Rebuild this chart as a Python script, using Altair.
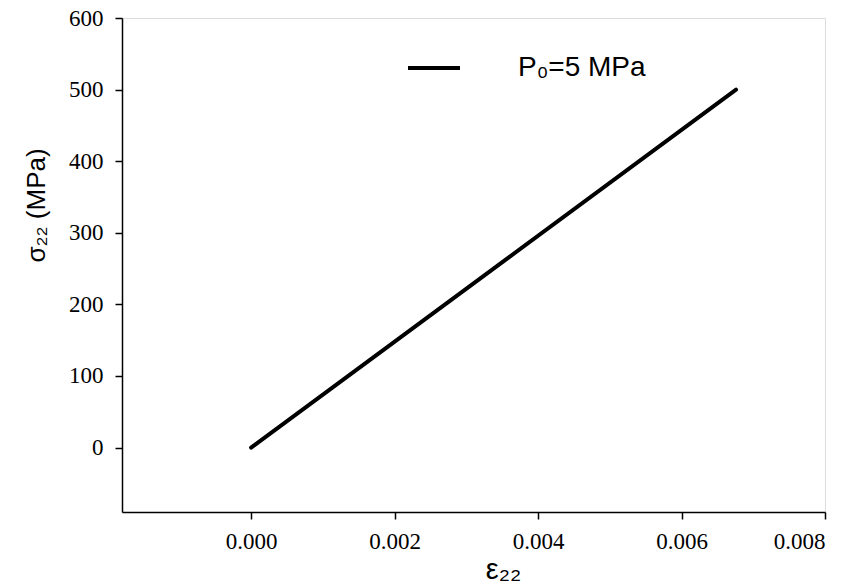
import altair as alt
import pandas as pd

# data
strain = [0.0, 0.00676]
stress = [0.0, 500.0]
series = ["P₀=5 MPa", "P₀=5 MPa"]

x_ticks = [0.0, 0.002, 0.004, 0.006, 0.008]
y_ticks = [0, 100, 200, 300, 400, 500, 600]

df = pd.DataFrame({"strain": strain, "stress": stress, "series": series})

serif = "'Liberation Serif', 'Times New Roman', Times, serif"
sans = "'Liberation Sans', Arial, sans-serif"

chart = alt.Chart(df).mark_line(strokeWidth=4, strokeCap="round").encode(
    x=alt.X(
        "strain:Q",
        scale=alt.Scale(domain=[-0.0018, 0.008], nice=False, zero=False),
        axis=alt.Axis(
            values=x_ticks, format=".3f", grid=False,
            tickSize=7, tickColor="black", tickWidth=1.5,
            domainColor="black", domainWidth=1.5,
            labelFont=serif, labelFontSize=23, labelColor="black", labelPadding=11,
            title="ε₂₂", titleFont=sans, titleFontSize=29, titleFontWeight="normal",
            titleColor="black", titleX=381, titleY=66, titleBaseline="alphabetic",
        ),
    ),
    y=alt.Y(
        "stress:Q",
        scale=alt.Scale(domain=[-90, 600], nice=False, zero=False),
        axis=alt.Axis(
            values=y_ticks, grid=False,
            tickSize=7, tickColor="black", tickWidth=1.5,
            domainColor="black", domainWidth=1.5,
            labelFont=serif, labelFontSize=23, labelColor="black", labelPadding=12,
            title="σ₂₂ (MPa)", titleFont=sans, titleFontSize=26, titleFontWeight="normal",
            titleColor="black", titleX=-78, titleY=187, titleAngle=-90,
            titleBaseline="alphabetic", titleAlign="center",
        ),
    ),
    color=alt.Color(
        "series:N",
        scale=alt.Scale(range=["black"]),
        legend=alt.Legend(
            title=None, orient="none", legendX=284, legendY=22,
            symbolType="stroke", symbolSize=2704, symbolStrokeWidth=4,
            labelFont=sans, labelFontSize=28, labelColor="black", labelOffset=56,
            padding=0,
        ),
    ),
).properties(
    width=703, height=494,
    padding={"left": 122, "top": 18, "right": 42, "bottom": 72},
    autosize=alt.AutoSizeParams(type="none"),
).configure_view(
    stroke="black", strokeWidth=1.5
).configure_axis(
    labelFont=serif
).configure(background="white")

chart.save("out.html", embed_options={"renderer": "svg", "actions": False})
